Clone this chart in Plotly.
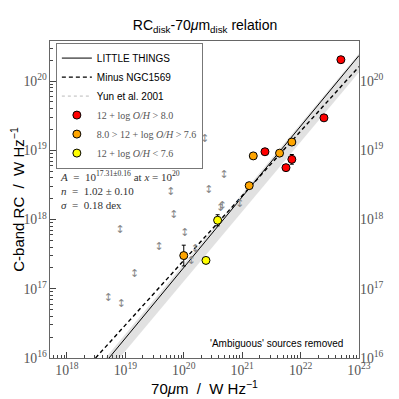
import plotly.graph_objects as go

# values, in log10 units
red_x = [22.69, 22.40, 21.39, 21.85, 21.75]
red_y = [20.31, 19.47, 18.98, 18.87, 18.75]
red_err = [0.0, 0.0, 0.0, 0.07, 0.0]

orange_x = [21.19, 21.64, 21.85, 21.12, 20.00]
orange_y = [18.92, 18.96, 19.12, 18.49, 17.48]
orange_err = [0.0, 0.0, 0.0, 0.0, 0.15]

yellow_x = [20.58, 20.38]
yellow_y = [17.99, 17.41]
yellow_err = [0.08, 0.0]

# upper limits (grey arrows)
lim_x = [20.36, 20.69, 19.78, 20.43, 19.83, 20.66, 20.63, 20.96,
         18.91, 20.02, 19.58, 20.20, 20.13, 19.16, 18.71, 18.93]
lim_y = [19.16, 18.64, 18.40, 18.42, 18.06, 18.19, 18.16, 18.22,
         17.84, 17.80, 17.60, 17.57, 17.40, 17.21, 16.87, 16.78]

# fit lines (end points)
lt_x = [18.72, 23.0]
lt_y = [16.0, 20.37]
ngc_x = [18.49, 23.0]
ngc_y = [16.0, 20.21]
band_up_x = [18.66, 23.0]
band_up_y = [16.0, 20.40]
band_lo_x = [18.90, 23.0]
band_lo_y = [16.0, 20.13]

x_range = [17.71, 23.0]
y_range = [16.0, 20.58]


def lin(v):
    return [10 ** a for a in v]


def errs(y, e):
    up = [10 ** (a + b) - 10 ** a for a, b in zip(y, e)]
    dn = [10 ** a - 10 ** (a - b) for a, b in zip(y, e)]
    return dict(type='data', symmetric=False, array=up, arrayminus=dn,
                color='black', thickness=1, width=2)


SERIF = 'font-family:Liberation Serif'

fig = go.Figure()

# shaded uncertainty band
fig.add_trace(go.Scatter(x=lin(band_up_x + band_lo_x[::-1]), y=lin(band_up_y + band_lo_y[::-1]),
                         fill='toself', fillcolor='rgba(205,205,205,0.6)', line=dict(width=0),
                         mode='lines', showlegend=False, hoverinfo='skip'))

fig.add_trace(go.Scatter(x=lin(lt_x), y=lin(lt_y), mode='lines', name='LITTLE THINGS',
                         line=dict(color='black', width=1)))
fig.add_trace(go.Scatter(x=lin(ngc_x), y=lin(ngc_y), mode='lines', name='Minus NGC1569',
                         line=dict(color='black', width=1.4, dash='4px,3px')))
fig.add_trace(go.Scatter(x=[None], y=[None], mode='lines', name='Yun et al. 2001',
                         line=dict(color='#bbbbbb', width=1, dash='dot')))

fig.add_trace(go.Scatter(x=lin(lim_x), y=lin(lim_y), mode='text', text=['↕'] * len(lim_x),
                         textfont=dict(size=11, color='#888888', family='DejaVu Sans'),
                         showlegend=False, hoverinfo='skip'))

groups = [
    (red_x, red_y, red_err, '#ff0000', '12 + log <i>O/H</i> > 8.0'),
    (orange_x, orange_y, orange_err, '#ffa500', '8.0 > 12 + log <i>O/H</i> > 7.6'),
    (yellow_x, yellow_y, yellow_err, '#ffff00', '12 + log <i>O/H</i> < 7.6'),
]
for gx, gy, ge, col, lab in groups:
    fig.add_trace(go.Scatter(x=lin(gx), y=lin(gy), mode='markers',
                             name='<span style="%s;color:#555555">%s</span>' % (SERIF, lab),
                             error_y=errs(gy, ge),
                             marker=dict(size=8, color=col, line=dict(color='black', width=1))))

# dummy trace so the right-hand axis is drawn
fig.add_trace(go.Scatter(x=[None], y=[None], yaxis='y2', showlegend=False, hoverinfo='skip'))

axis_common = dict(type='log', showgrid=False, zeroline=False, showline=True, mirror=True,
                   linecolor='#666666', linewidth=1, ticks='inside', ticklen=6, tickcolor='#444444',
                   dtick=1, exponentformat='power', automargin=False,
                   minor=dict(ticks='inside', ticklen=3, tickcolor='#444444', showgrid=False),
                   tickfont=dict(family='Liberation Serif', size=11, color='#555555'))

# page body adds an 8px offset, so the figure is 391px wide
fig.update_layout(
    width=391, height=391,
    margin=dict(l=42, r=40, t=33, b=41),
    paper_bgcolor='white', plot_bgcolor='white',
    title=dict(text='RC<sub>disk</sub>-70<i>μ</i>m<sub>disk</sub> relation', x=0.504, xanchor='center',
               y=0.957, yanchor='middle', font=dict(family='Liberation Sans', size=14, color='black')),
    xaxis=dict(range=x_range, title=dict(text='70<i>μ</i>m  /  W Hz<sup>−1</sup>', standoff=4,
                                         font=dict(family='Liberation Sans', size=15, color='black')),
               **axis_common),
    yaxis=dict(range=y_range, title=dict(text='C-band RC  /  W Hz<sup>−1</sup>', standoff=6,
                                         font=dict(family='Liberation Sans', size=15, color='black')),
               **axis_common),
    yaxis2=dict(range=y_range, overlaying='y', side='right', type='log', showgrid=False,
                zeroline=False, showline=False, ticks='', dtick=1, exponentformat='power',
                automargin=False,
                tickfont=dict(family='Liberation Serif', size=11, color='#555555')),
    legend=dict(x=0.019, y=0.995, xanchor='left', yanchor='top', bgcolor='white',
                bordercolor='#777777', borderwidth=1, itemwidth=30, tracegroupgap=0,
                font=dict(family='Liberation Sans', size=10, color='black')),
    showlegend=True,
)

fig.add_annotation(x=0.025, y=0.603, xref='paper', yref='paper', xanchor='left', yanchor='top',
                   showarrow=False, align='left',
                   text='<i>A</i>  =  10<sup>17.31±0.16</sup> at <i>x</i> = 10<sup>20</sup><br>'
                        '<i>n</i>  =  1.02 ± 0.10<br><i>σ</i>  =  0.18 dex',
                   font=dict(family='Liberation Serif', size=11, color='#333333'))
fig.add_annotation(x=0.955, y=0.047, xref='paper', yref='paper', xanchor='right', yanchor='middle',
                   showarrow=False, text="'Ambiguous' sources removed",
                   font=dict(family='Liberation Sans', size=10, color='black'))

fig.write_html("out.html")
